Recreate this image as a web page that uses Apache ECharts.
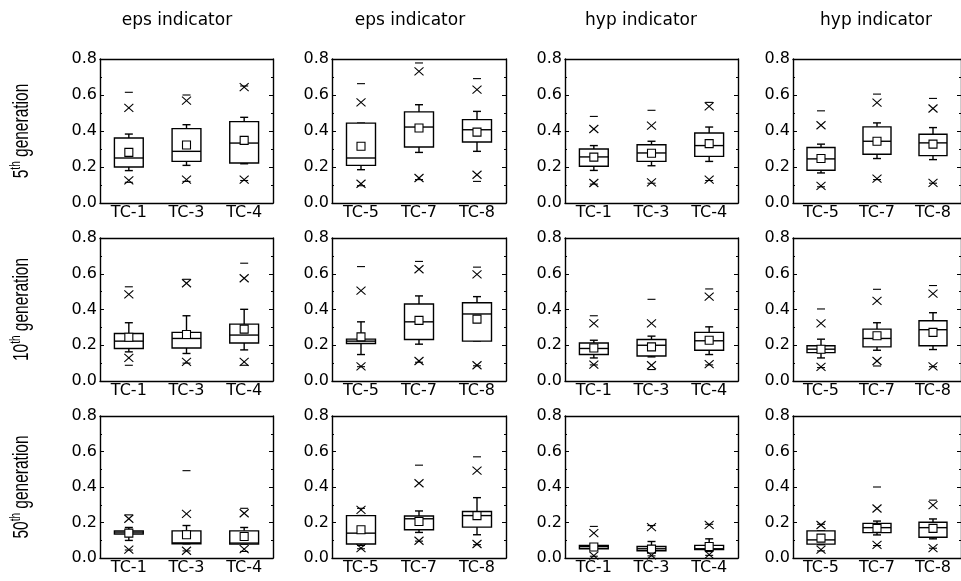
<!DOCTYPE html>
<html>
<head>
<meta charset="utf-8">
<script src="https://cdn.jsdelivr.net/npm/echarts@6/dist/echarts.min.js"></script>
<style>
  html, body { margin: 0; padding: 0; background: #fff; }
  #chart { width: 961px; height: 581px; }
</style>
</head>
<body>
<div id="chart"></div>
<script>
// column titles and row labels
const colTitles = ['eps indicator', 'eps indicator', 'hyp indicator', 'hyp indicator']
const rowGen = ['5', '10', '50']
const catsA = ['TC-1', 'TC-3', 'TC-4']
const catsB = ['TC-5', 'TC-7', 'TC-8']

// per panel (row by row, left to right), per category:
// [whisker low, Q1, median, Q3, whisker high]
const boxes = [
  [[0.18, 0.20, 0.25, 0.361, 0.383], [0.209, 0.231, 0.287, 0.413, 0.435], [0.218, 0.222, 0.333, 0.452, 0.476]],
  [[0.185, 0.209, 0.25, 0.444, 0.444], [0.281, 0.311, 0.422, 0.506, 0.546], [0.287, 0.339, 0.407, 0.463, 0.509]],
  [[0.181, 0.204, 0.256, 0.30, 0.319], [0.207, 0.231, 0.278, 0.324, 0.343], [0.231, 0.259, 0.319, 0.389, 0.422]],
  [[0.167, 0.182, 0.245, 0.308, 0.327], [0.247, 0.271, 0.343, 0.423, 0.445], [0.241, 0.263, 0.334, 0.382, 0.419]],
  [[0.163, 0.182, 0.223, 0.266, 0.326], [0.154, 0.185, 0.238, 0.272, 0.365], [0.174, 0.213, 0.257, 0.318, 0.401]],
  [[0.148, 0.21, 0.223, 0.234, 0.331], [0.206, 0.232, 0.331, 0.431, 0.476], [0.223, 0.223, 0.375, 0.438, 0.472]],
  [[0.129, 0.148, 0.182, 0.213, 0.228], [0.135, 0.14, 0.20, 0.232, 0.251], [0.148, 0.172, 0.225, 0.272, 0.303]],
  [[0.129, 0.159, 0.178, 0.197, 0.234], [0.172, 0.191, 0.238, 0.29, 0.326], [0.176, 0.197, 0.287, 0.337, 0.382]],
  [[0.099, 0.135, 0.146, 0.153, 0.172], [0.08, 0.08, 0.085, 0.153, 0.183], [0.078, 0.078, 0.084, 0.153, 0.172]],
  [[0.071, 0.079, 0.14, 0.239, 0.239], [0.144, 0.159, 0.221, 0.237, 0.265], [0.131, 0.174, 0.239, 0.262, 0.34]],
  [[0.047, 0.052, 0.064, 0.071, 0.078], [0.037, 0.041, 0.052, 0.065, 0.093], [0.037, 0.047, 0.052, 0.071, 0.108]],
  [[0.075, 0.078, 0.102, 0.153, 0.153], [0.13, 0.143, 0.171, 0.195, 0.208], [0.108, 0.117, 0.171, 0.201, 0.22]]
]
const means = [
  [0.281, 0.322, 0.348], [0.315, 0.417, 0.394], [0.255, 0.276, 0.33], [0.247, 0.343, 0.327],
  [0.245, 0.26, 0.29], [0.247, 0.339, 0.346], [0.185, 0.191, 0.228], [0.178, 0.253, 0.272],
  [0.14, 0.131, 0.121], [0.159, 0.206, 0.239], [0.062, 0.05, 0.065], [0.112, 0.167, 0.167]
]
const p1 = [
  [0.126, 0.13, 0.13], [0.107, 0.139, 0.157], [0.111, 0.115, 0.13], [0.095, 0.135, 0.112],
  [0.129, 0.107, 0.107], [0.082, 0.112, 0.088], [0.092, 0.088, 0.094], [0.079, 0.112, 0.082],
  [0.047, 0.041, 0.05], [0.056, 0.097, 0.079], [0.013, 0.015, 0.019], [0.047, 0.074, 0.056]
]
const p99 = [
  [0.528, 0.569, 0.644], [0.559, 0.731, 0.63], [0.411, 0.43, 0.537], [0.432, 0.558, 0.525],
  [0.485, 0.547, 0.575], [0.506, 0.625, 0.597], [0.322, 0.322, 0.472], [0.322, 0.448, 0.489],
  [0.221, 0.249, 0.252], [0.271, 0.421, 0.492], [0.14, 0.174, 0.187], [0.186, 0.279, 0.298]
]
const mins = [
  [0.115, 0.12, 0.125], [0.096, 0.13, 0.12], [0.105, 0.11, 0.125], [0.09, 0.13, 0.11],
  [0.088, 0.1, 0.088], [0.08, 0.105, 0.085], [0.09, 0.064, 0.09], [0.075, 0.084, 0.08],
  [0.045, 0.04, 0.037], [0.052, 0.095, 0.075], [0.01, 0.012, 0.015], [0.04, 0.07, 0.055]
]
const maxs = [
  [0.615, 0.60, 0.65], [0.663, 0.778, 0.691], [0.481, 0.515, 0.559], [0.512, 0.605, 0.581],
  [0.527, 0.569, 0.659], [0.64, 0.669, 0.637], [0.365, 0.457, 0.515], [0.403, 0.513, 0.534],
  [0.243, 0.492, 0.28], [0.28, 0.523, 0.57], [0.178, 0.183, 0.19], [0.19, 0.4, 0.326]
]

const colLeft = [100, 332, 565, 793]
const colWidth = [173, 174, 173, 168]
const titleX = [177, 410, 641, 876]
const rowTop = [59, 238, 416]
const rowHeight = [144, 143, 142]
const font = '"DejaVu Sans", Arial, sans-serif'
const rowFont = '"Liberation Sans", Arial, sans-serif'

const chart = echarts.init(document.getElementById('chart'))

function renderBox(params, api) {
  const x = api.value(0)
  const bw = api.size([1, 0])[0] * 0.5
  const pt = v => api.coord([x, v])
  const cx = pt(0)[0]
  const y = k => pt(api.value(k))[1]
  const line = (x1, y1, x2, y2, w) => ({ type: 'line', shape: { x1, y1, x2, y2 }, style: { stroke: '#000', lineWidth: w || 1.4 } })
  const cross = (yy) => [
    line(cx - 4.5, yy - 4, cx + 4.5, yy + 4, 1.1),
    line(cx - 4.5, yy + 4, cx + 4.5, yy - 4, 1.1)
  ]
  const wl = y(1), q1 = y(2), md = y(3), q3 = y(4), wh = y(5)
  const mn = y(6), lo1 = y(7), hi99 = y(8), mnv = y(9), mxv = y(10)
  const children = [
    line(cx, q3, cx, wh),
    line(cx - 4, wh, cx + 4, wh),
    line(cx, q1, cx, wl),
    line(cx - 4, wl, cx + 4, wl),
    { type: 'rect', shape: { x: cx - bw / 2, y: q3, width: bw, height: q1 - q3 }, style: { stroke: '#000', lineWidth: 1.4, fill: '#fff' } },
    line(cx - bw / 2, md, cx + bw / 2, md),
    { type: 'rect', shape: { x: cx - 4, y: mn - 4, width: 8, height: 8 }, style: { stroke: '#000', lineWidth: 1.1, fill: '#fff' } },
    line(cx - 4, mnv, cx + 4, mnv, 1.1),
    line(cx - 4, mxv, cx + 4, mxv, 1.1)
  ].concat(cross(lo1), cross(hi99))
  return { type: 'group', children }
}

function axisLine() {
  return { show: true, onZero: false, lineStyle: { color: '#000', width: 1.4 } }
}

const grids = [], xAxes = [], yAxes = [], series = [], graphics = []
for (let r = 0; r < 3; r++) {
  for (let c = 0; c < 4; c++) {
    const p = r * 4 + c
    const cats = c % 2 === 0 ? catsA : catsB
    grids.push({ left: colLeft[c], top: rowTop[r], width: colWidth[c], height: rowHeight[r] })
    xAxes.push({
      type: 'category', gridIndex: p, data: cats, position: 'bottom',
      axisLine: axisLine(), axisTick: { inside: true, alignWithLabel: true, length: 4, lineStyle: { color: '#000' } },
      axisLabel: { color: '#000', fontSize: 16, fontFamily: font, margin: 2 },
      splitLine: { show: false }
    })
    xAxes.push({
      type: 'category', gridIndex: p, data: cats, position: 'top',
      axisLine: axisLine(), axisTick: { inside: true, alignWithLabel: true, length: 4, lineStyle: { color: '#000' } },
      axisLabel: { show: false }, splitLine: { show: false }
    })
    const yBase = () => ({
      type: 'value', gridIndex: p, min: 0, max: 0.8, interval: 0.2,
      axisLine: axisLine(), splitLine: { show: false },
      axisTick: { show: true, inside: true, length: 4, lineStyle: { color: '#000' } },
      minorTick: { show: true, splitNumber: 2, length: 2, lineStyle: { color: '#000' } }
    })
    yAxes.push(Object.assign(yBase(), {
      position: 'left',
      axisLabel: { color: '#000', fontSize: 16, fontFamily: font, margin: 3, formatter: v => v.toFixed(1) }
    }))
    yAxes.push(Object.assign(yBase(), { position: 'right', axisLabel: { show: false } }))
    series.push({
      type: 'custom', xAxisIndex: p * 2, yAxisIndex: p * 2,
      renderItem: renderBox,
      encode: { x: 0, y: 1 },
      clip: false,
      data: cats.map((_, i) => [i].concat(boxes[p][i], [means[p][i], p1[p][i], p99[p][i], mins[p][i], maxs[p][i]]))
    })
  }
}

colTitles.forEach((t, c) => {
  graphics.push({
    type: 'text', x: titleX[c], y: 21,
    style: { text: t, font: '17px ' + font, fill: '#000', align: 'center', verticalAlign: 'middle' }
  })
})
rowGen.forEach((g, r) => {
  // rotated label; scaleY widens the glyphs like the reference
  graphics.push({
    type: 'text', x: 22, y: rowTop[r] + rowHeight[r] / 2, rotation: Math.PI / 2, scaleY: 1.4,
    style: {
      text: '{n|' + g + '}{s|th}{n| generation}',
      align: 'center', verticalAlign: 'middle',
      rich: {
        n: { fontSize: 15.5, fontFamily: rowFont, fill: '#000', lineHeight: 18 },
        s: { fontSize: 10, fontFamily: rowFont, fill: '#000', verticalAlign: 'top', lineHeight: 18 }
      }
    }
  })
})

chart.setOption({
  animation: false,
  backgroundColor: '#fff',
  grid: grids,
  xAxis: xAxes,
  yAxis: yAxes,
  series: series,
  graphic: graphics
})
</script>
</body>
</html>
